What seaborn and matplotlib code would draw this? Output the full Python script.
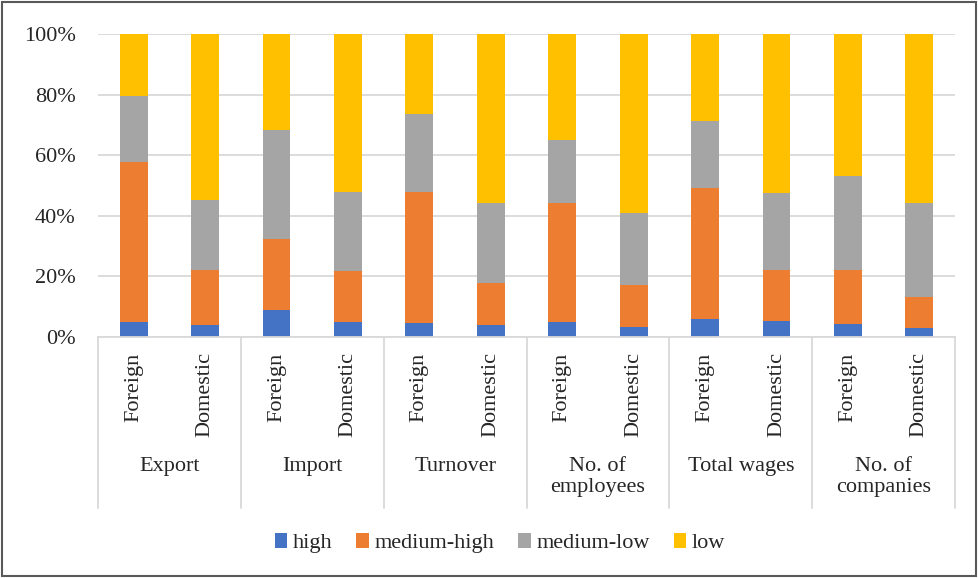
"""
Stacked shares of technology-intensity classes,
foreign vs domestic companies.
"""

import matplotlib
matplotlib.use("Agg")

import numpy as np
import pandas as pd

import matplotlib.pyplot as plt
import seaborn as sns

from matplotlib.patches import Patch, Rectangle
from matplotlib.lines import Line2D
from matplotlib.transforms import blended_transform_factory

groups = [
    "Export",
    "Import",
    "Turnover",
    "No. of\nemployees",
    "Total wages",
    "No. of\ncompanies"
]

owners = ["Foreign", "Domestic"]

# shares in %, order: Export F, Export D, Import F, Import D, ...
high = [5.0, 3.9, 9.0, 5.0, 4.6, 3.9, 5.0, 3.3, 5.8, 5.4, 4.2, 3.0]
medium_high = [52.9, 18.2, 23.3, 16.7, 43.4, 14.0, 39.3, 13.9, 43.5, 16.7, 17.9, 10.1]
medium_low = [21.8, 23.1, 36.1, 26.3, 25.6, 26.2, 20.8, 23.6, 21.9, 25.5, 31.2, 31.2]
low = [20.3, 54.8, 31.6, 52.0, 26.4, 55.9, 34.9, 59.2, 28.8, 52.4, 46.7, 55.7]

series_names = ["high", "medium-high", "medium-low", "low"]
series_colors = ["#4472C4", "#ED7D31", "#A5A5A5", "#FFC000"]

GRID = "#D9D9D9"


def build_frame():
    """
    Build long table with cumulative tops.
    """

    keys = [f"{g}|{o}" for g in groups for o in owners]

    df = pd.DataFrame({
        "key": keys,
        "high": high,
        "medium-high": medium_high,
        "medium-low": medium_low,
        "low": low
    })

    cum = df[series_names].cumsum(axis=1)

    return df, cum


def plot_chart():
    """
    Draw the stacked bar chart.
    """

    sns.set_style("white")

    plt.rcParams["font.family"] = ["Liberation Serif", "DejaVu Serif"]

    df, cum = build_frame()

    fig = plt.figure(figsize=(9.79, 5.78), dpi=100)

    ax = fig.add_axes([98 / 979, 1 - 337 / 578, 857 / 979, 303 / 578])

    # draw from top segment down so smaller stacks sit in front
    for name, color in reversed(list(zip(series_names, series_colors))):
        sns.barplot(
            x=df["key"],
            y=cum[name],
            order=list(df["key"]),
            color=color,
            width=0.39,
            linewidth=0,
            saturation=1,
            ax=ax
        )

    ax.set_xlim(-0.5, len(df) - 0.5)
    ax.set_ylim(0, 100)

    ax.set_yticks(np.arange(0, 101, 20))
    ax.set_yticklabels([f"{v}%" for v in range(0, 101, 20)], fontsize=16)

    ax.set_xticks(range(len(df)))
    ax.set_xticklabels(
        owners * len(groups),
        rotation=90,
        va="top",
        ha="center",
        fontsize=16
    )

    ax.tick_params(axis="both", length=0)
    ax.tick_params(axis="x", pad=11)
    ax.tick_params(axis="y", pad=16)

    ax.set_xlabel("")
    ax.set_ylabel("")

    ax.yaxis.grid(True, color=GRID, linewidth=1.3)
    ax.set_axisbelow(True)

    for side in ["left", "right", "top"]:
        ax.spines[side].set_visible(False)

    ax.spines["bottom"].set_color(GRID)
    ax.spines["bottom"].set_linewidth(1.3)

    trans = blended_transform_factory(ax.transData, fig.transFigure)

    # group separators below the axis
    for i in range(len(groups) + 1):
        x = 2 * i - 0.5
        ax.add_line(Line2D(
            [x, x],
            [1 - 337 / 578, 1 - 508 / 578],
            transform=trans,
            color=GRID,
            linewidth=1.3,
            clip_on=False
        ))

    for i, g in enumerate(groups):
        ax.text(
            2 * i + 0.5,
            1 - 457 / 578,
            g,
            transform=trans,
            ha="center",
            va="top",
            fontsize=16,
            linespacing=1.15
        )

    handles = [
        Patch(facecolor=c, edgecolor="none", label=n)
        for n, c in zip(series_names, series_colors)
    ]

    fig.legend(
        handles=handles,
        loc="center",
        bbox_to_anchor=(500 / 979, 1 - 543 / 578),
        ncol=4,
        frameon=False,
        fontsize=16,
        handlelength=0.55,
        handleheight=0.7,
        handletextpad=0.25,
        columnspacing=1.1
    )

    fig.patches.append(Rectangle(
        (0.002, 0.003),
        0.995,
        0.993,
        transform=fig.transFigure,
        fill=False,
        edgecolor="#595959",
        linewidth=1.5
    ))

    fig.savefig("out.png", dpi=100)


plot_chart()
